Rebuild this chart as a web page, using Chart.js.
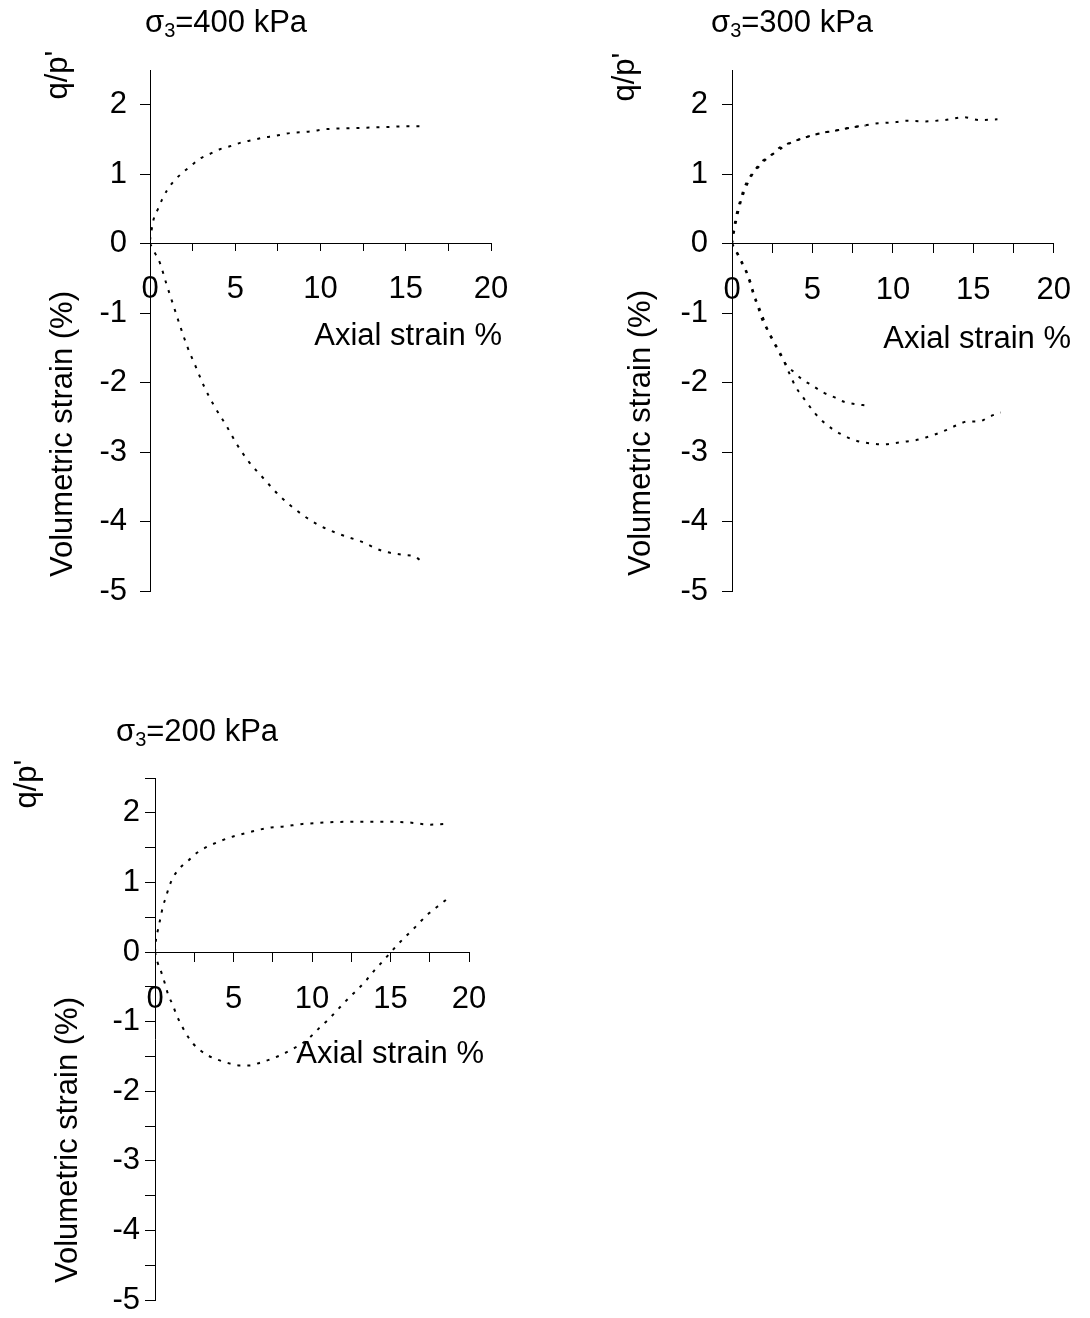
<!DOCTYPE html>
<html><head><meta charset="utf-8">
<script src="https://cdn.jsdelivr.net/npm/chart.js@4/dist/chart.umd.min.js"></script>
<style>
html,body{margin:0;padding:0;background:#fff;overflow:hidden;width:1090px;height:1318px}
canvas{position:absolute}
</style></head><body>
<canvas id="c400" style="left:0px;top:0px" width="540" height="650"></canvas>
<canvas id="c300" style="left:560px;top:0px" width="530" height="650"></canvas>
<canvas id="c200" style="left:0px;top:700px" width="540" height="650"></canvas>
<script>
// ---------- tick labels ----------
const xTickValues = [0, 5, 10, 15, 20];
const yTickValues = [2, 1, 0, -1, -2, -3, -4, -5];

// ---------- sigma3 = 400 kPa ----------
const s400_qx = [0, 0.2, 0.45, 0.7, 1.0, 1.4, 1.9, 2.4, 2.9, 3.5, 4.1, 4.8, 5.4, 6.0, 6.7, 7.3, 7.9, 8.5, 9.2, 9.8, 10.4, 11.5, 12.7, 14.0, 15.0, 16.0];
const s400_q  = [0.05, 0.34, 0.49, 0.63, 0.77, 0.90, 1.02, 1.12, 1.22, 1.29, 1.36, 1.41, 1.46, 1.49, 1.53, 1.55, 1.58, 1.60, 1.61, 1.63, 1.65, 1.66, 1.67, 1.68, 1.69, 1.69];
const s400_vx = [0, 0.3, 0.6, 0.95, 1.4, 1.8, 2.2, 2.7, 3.2, 3.8, 4.5, 5.1, 5.8, 6.7, 7.6, 8.6, 9.8, 11.1, 12.4, 13.6, 14.9, 15.5, 16.0];
const s400_v  = [0, -0.14, -0.29, -0.57, -0.91, -1.21, -1.49, -1.78, -2.07, -2.35, -2.63, -2.89, -3.14, -3.39, -3.63, -3.84, -4.04, -4.18, -4.29, -4.42, -4.48, -4.50, -4.59];

// ---------- sigma3 = 300 kPa (two tests) ----------
const s300a_qx = [0, 0.1, 0.2, 0.35, 0.55, 0.75, 1.05, 1.45, 1.95, 2.45, 3.0, 3.7, 4.3, 5.0, 5.7, 6.3, 6.9, 7.6, 8.3];
const s300a_q  = [0, 0.18, 0.33, 0.49, 0.65, 0.80, 0.94, 1.07, 1.20, 1.28, 1.39, 1.46, 1.51, 1.56, 1.60, 1.62, 1.65, 1.68, 1.70];
const s300b_qx = [0, 0.15, 0.3, 0.45, 0.65, 0.9, 1.2, 1.6, 2.1, 2.6, 3.1, 3.7, 4.3, 5.0, 5.7, 6.3, 6.9, 7.6, 8.2, 8.9, 9.6, 10.2, 10.8, 11.9, 13.2, 14.4, 15.4, 16.5];
const s300b_q  = [0, 0.20, 0.37, 0.52, 0.68, 0.83, 0.97, 1.09, 1.21, 1.30, 1.38, 1.46, 1.51, 1.56, 1.60, 1.62, 1.65, 1.68, 1.70, 1.73, 1.74, 1.75, 1.77, 1.76, 1.78, 1.82, 1.78, 1.79];
const s300a_vx = [0, 0.35, 0.65, 0.95, 1.15, 1.35, 1.6, 1.8, 2.1, 2.4, 2.75, 3.05, 3.3, 3.9, 4.4, 5.05, 5.65, 6.35, 7.0, 7.65, 8.35];
const s300a_v  = [0, -0.16, -0.30, -0.45, -0.59, -0.75, -0.90, -1.05, -1.20, -1.34, -1.49, -1.62, -1.72, -1.86, -1.96, -2.05, -2.14, -2.21, -2.28, -2.31, -2.33];
const s300b_vx = [0, 0.4, 0.7, 1.0, 1.2, 1.4, 1.65, 1.9, 2.15, 2.45, 2.8, 3.1, 3.35, 3.65, 3.95, 4.35, 4.75, 5.15, 5.65, 6.25, 6.85, 7.5, 8.15, 8.8, 9.45, 10.15, 10.75, 11.4, 12.05, 12.7, 13.35, 14.0, 14.65, 15.35, 16.0, 16.7];
const s300b_v  = [0, -0.16, -0.30, -0.45, -0.59, -0.75, -0.90, -1.05, -1.20, -1.34, -1.49, -1.62, -1.76, -1.91, -2.06, -2.19, -2.32, -2.44, -2.56, -2.67, -2.75, -2.82, -2.86, -2.88, -2.89, -2.87, -2.85, -2.83, -2.79, -2.74, -2.68, -2.61, -2.56, -2.56, -2.49, -2.43];

// ---------- sigma3 = 200 kPa ----------
const s200_qx = [0, 0.06, 0.2, 0.35, 0.5, 0.7, 0.9, 1.2, 1.6, 2.15, 2.7, 3.3, 4.0, 4.7, 5.3, 6.0, 6.7, 7.4, 8.1, 8.75, 9.4, 10.1, 10.8, 12.0, 13.5, 15.0, 16.2, 17.5, 18.5];
const s200_q  = [0, 0.17, 0.33, 0.49, 0.65, 0.79, 0.94, 1.09, 1.21, 1.32, 1.43, 1.51, 1.58, 1.64, 1.68, 1.72, 1.76, 1.79, 1.80, 1.82, 1.84, 1.85, 1.86, 1.87, 1.87, 1.87, 1.86, 1.83, 1.84];
const s200_vx = [0, 0.15, 0.43, 0.64, 0.85, 1.13, 1.38, 1.66, 1.97, 2.4, 2.87, 3.4, 4.03, 4.73, 5.41, 6.05, 6.69, 7.37, 8.03, 8.7, 9.34, 9.94, 10.47, 11.04, 11.51, 11.96, 12.48, 12.99, 13.48, 13.95, 14.44, 14.92, 15.39, 15.86, 16.41, 16.92, 17.47, 17.98, 18.54];
const s200_v  = [0, -0.14, -0.31, -0.46, -0.62, -0.76, -0.91, -1.04, -1.17, -1.31, -1.41, -1.49, -1.55, -1.60, -1.63, -1.63, -1.59, -1.54, -1.48, -1.40, -1.32, -1.21, -1.09, -0.97, -0.86, -0.75, -0.63, -0.52, -0.40, -0.27, -0.15, -0.03, 0.09, 0.20, 0.32, 0.44, 0.56, 0.65, 0.75];

// ---------- text ----------
const xTitle = 'Axial strain %';
const yTitleTop = "q/p'";
const yTitleBottom = 'Volumetric strain (%)';

const FONT = "'Liberation Sans', Arial, Helvetica, sans-serif";
const FS = 31;
Chart.defaults.font.family = FONT;
Chart.defaults.font.size = FS;
Chart.defaults.color = '#000';

const textPlugin = {
  id: 'texts',
  afterDraw(chart, args, opts) {
    const ctx = chart.ctx;
    (opts.items || []).forEach(it => {
      ctx.save();
      ctx.fillStyle = '#000';
      ctx.translate(it.x, it.y);
      if (it.rot) ctx.rotate(it.rot * Math.PI / 180);
      const parts = it.parts || [{t: it.text, size: FS, dy: 0}];
      let total = 0;
      parts.forEach(p => { ctx.font = p.size + 'px ' + FONT; p.w = ctx.measureText(p.t).width; total += p.w; });
      let pos = it.align === 'right' ? -total : (it.align === 'center' ? -total / 2 : 0);
      ctx.textAlign = 'left';
      ctx.textBaseline = 'alphabetic';
      parts.forEach(p => { ctx.font = p.size + 'px ' + FONT; ctx.fillText(p.t, pos, p.dy || 0); pos += p.w; });
      ctx.restore();
    });
  }
};

function titleParts(kpa) {
  return [{t: 'σ', size: FS}, {t: '3', size: 20, dy: 5}, {t: '=' + kpa + ' kPa', size: FS}];
}

function series(xs, ys) {
  return {
    data: xs.map((x, i) => ({x: x, y: ys[i]})),
    borderColor: '#000', borderWidth: 2, borderDash: [3, 7], borderCapStyle: 'butt',
    pointRadius: 0, fill: false, cubicInterpolationMode: 'monotone'
  };
}

function makePanel(id, o) {
  return new Chart(document.getElementById(id), {
    type: 'line',
    data: {datasets: o.datasets},
    options: {
      responsive: false, animation: false, devicePixelRatio: 1,
      layout: {padding: o.pad},
      plugins: {legend: {display: false}, tooltip: {enabled: false}, texts: {items: o.texts}},
      scales: {
        x: {
          type: 'linear', min: 0, max: 20, position: {y: 0},
          border: {display: true, color: '#000', width: 1},
          grid: {drawOnChartArea: false, drawTicks: true, tickLength: o.xTick, color: '#000', lineWidth: 1},
          ticks: {stepSize: 2.5, autoSkip: false, maxRotation: 0, minRotation: 0, padding: o.xPad, color: '#000',
                  font: {family: FONT, size: FS},
                  callback: v => xTickValues.includes(v) ? String(v) : ''},
          afterFit: s => { s.height = 0; }
        },
        y: {
          type: 'linear', min: -5, max: 2.5, position: 'left',
          border: {display: true, color: '#000', width: 1},
          grid: {drawOnChartArea: false, drawTicks: true, tickLength: 10, color: '#000', lineWidth: 1},
          ticks: {stepSize: o.yStep, includeBounds: false, autoSkip: false, padding: o.yPad, color: '#000',
                  font: {family: FONT, size: FS},
                  callback: v => yTickValues.includes(v) ? String(v) : ''},
          afterFit: s => { s.width = o.yW; }
        }
      }
    },
    plugins: [textPlugin]
  });
}

makePanel('c400', {
  datasets: [series(s400_qx, s400_q), series(s400_vx, s400_v)],
  pad: {left: 0, top: 70, right: 49, bottom: 59}, yW: 150, yStep: 1, yPad: 13, xTick: 7, xPad: 20,
  texts: [
    {parts: titleParts(400), x: 145, y: 32},
    {text: yTitleTop, x: 67, y: 75, rot: -90, align: 'center'},
    {text: yTitleBottom, x: 72, y: 434, rot: -90, align: 'center'},
    {text: xTitle, x: 502, y: 345, align: 'right'}
  ]
});

makePanel('c300', {
  datasets: [series(s300a_qx, s300a_q), series(s300b_qx, s300b_q), series(s300a_vx, s300a_v), series(s300b_vx, s300b_v)],
  pad: {left: 0, top: 70, right: 30, bottom: 59}, yW: 172, yStep: 1, yPad: 14, xTick: 9, xPad: 19,
  texts: [
    {parts: titleParts(300), x: 151, y: 32},
    {text: yTitleTop, x: 74, y: 77, rot: -90, align: 'center'},
    {text: yTitleBottom, x: 90, y: 433, rot: -90, align: 'center'},
    {text: xTitle, x: 511, y: 348, align: 'right'}
  ]
});

makePanel('c200', {
  datasets: [series(s200_qx, s200_q), series(s200_vx, s200_v)],
  pad: {left: 0, top: 78, right: 71, bottom: 50}, yW: 155, yStep: 0.5, yPad: 5, xTick: 9, xPad: 20,
  texts: [
    {parts: titleParts(200), x: 116, y: 41},
    {text: yTitleTop, x: 36, y: 84, rot: -90, align: 'center'},
    {text: yTitleBottom, x: 77, y: 440, rot: -90, align: 'center'},
    {text: xTitle, x: 484, y: 363, align: 'right'}
  ]
});
</script>
</body></html>
